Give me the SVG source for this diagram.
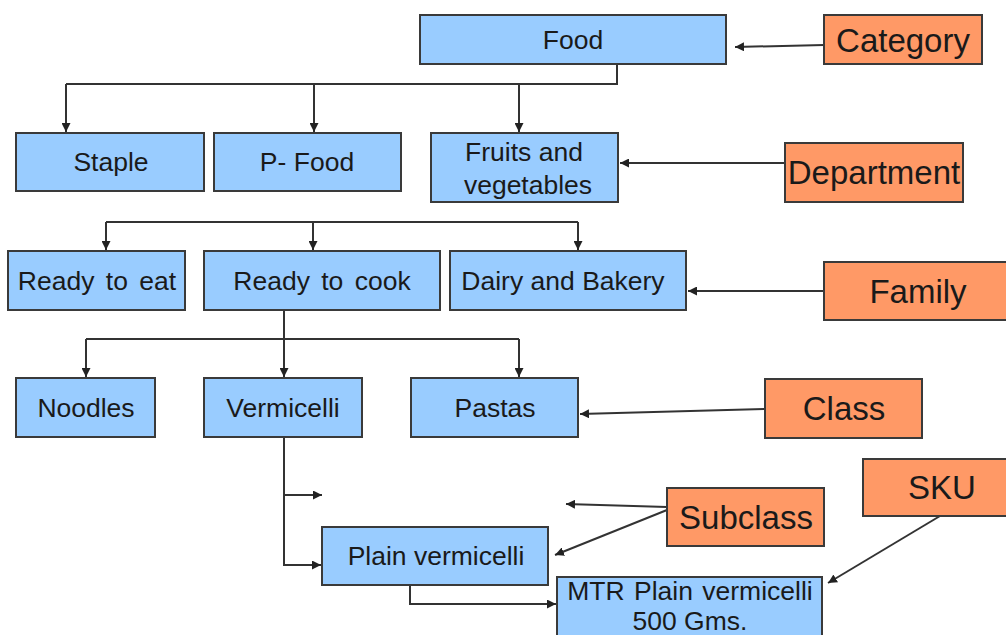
<svg xmlns="http://www.w3.org/2000/svg" width="1006" height="635" viewBox="0 0 1006 635">
<defs>
<marker id="ah" viewBox="0 0 10 10" refX="10" refY="5" markerWidth="9" markerHeight="9" markerUnits="userSpaceOnUse" orient="auto">
<path d="M0,0 L10,5 L0,10 z" fill="#222"/>
</marker>
<style>
.b rect{fill:#99ccff;stroke:#3a3a3a;stroke-width:2}
.o rect{fill:#ff9966;stroke:#3a3a3a;stroke-width:2}
.b text{font-family:"Liberation Sans",Arial,sans-serif;font-size:26.5px;fill:#1a1a1a;text-anchor:middle}
.o text{font-family:"Liberation Sans",Arial,sans-serif;font-size:33px;fill:#1a1a1a;text-anchor:middle}
#conn path{fill:none;stroke:#333;stroke-width:2}
#conn .a{marker-end:url(#ah)}
</style>
</defs>
<rect width="1006" height="635" fill="#fff"/>
<g id="conn">
<path class="a" d="M824,45 L735,47"/>
<path d="M617,64 V84 H66"/>
<path class="a" d="M66,84 V132"/>
<path class="a" d="M314,84 V132"/>
<path class="a" d="M519,84 V132"/>
<path class="a" d="M785,163 H620"/>
<path d="M106,222 H578"/>
<path class="a" d="M106,222 V250"/>
<path class="a" d="M313,222 V250"/>
<path class="a" d="M578,222 V250"/>
<path class="a" d="M824,291 H688"/>
<path class="a" d="M284,310 V377"/>
<path d="M86,339 H519"/>
<path class="a" d="M86,339 V377"/>
<path class="a" d="M519,339 V377"/>
<path class="a" d="M765,409 L580,414"/>
<path class="a" d="M284,437 V565 H321"/>
<path class="a" d="M284,495 H322"/>
<path class="a" d="M667,507 L566,504"/>
<path class="a" d="M667,510 L555,555"/>
<path class="a" d="M940,516 L828,583"/>
<path class="a" d="M410,585 V604 H556"/>
</g>
<g id="food" class="b"><rect x="420" y="15" width="306" height="49"/><text x="573" y="49">Food</text></g>
<g id="category" class="o"><rect x="824" y="15" width="158" height="49"/><text x="903" y="52">Category</text></g>
<g id="staple" class="b"><rect x="16" y="133" width="188" height="58"/><text x="111" y="171">Staple</text></g>
<g id="pfood" class="b"><rect x="214" y="133" width="187" height="58"/><text x="307" y="171">P- Food</text></g>
<g id="fruits" class="b"><rect x="431" y="133" width="187" height="69"/><text x="524" y="161">Fruits and</text><text x="528" y="194">vegetables</text></g>
<g id="department" class="o"><rect x="785" y="143" width="178" height="59"/><text x="874" y="184">Department</text></g>
<g id="readyeat" class="b"><rect x="8" y="251" width="177" height="59"/><text x="97" y="290" word-spacing="4">Ready to eat</text></g>
<g id="readycook" class="b"><rect x="204" y="251" width="236" height="59"/><text x="322" y="290" word-spacing="4">Ready to cook</text></g>
<g id="dairy" class="b"><rect x="450" y="251" width="236" height="59"/><text x="563" y="290">Dairy and Bakery</text></g>
<g id="family" class="o"><rect x="824" y="262" width="186" height="58"/><text x="918" y="303">Family</text></g>
<g id="noodles" class="b"><rect x="16" y="378" width="139" height="59"/><text x="86" y="417">Noodles</text></g>
<g id="vermicelli" class="b"><rect x="204" y="378" width="158" height="59"/><text x="283" y="417">Vermicelli</text></g>
<g id="pastas" class="b"><rect x="411" y="378" width="167" height="59"/><text x="495" y="417">Pastas</text></g>
<g id="class" class="o"><rect x="765" y="379" width="157" height="59"/><text x="844" y="420">Class</text></g>
<g id="sku" class="o"><rect x="863" y="459" width="147" height="57"/><text x="942" y="499">SKU</text></g>
<g id="subclass" class="o"><rect x="667" y="488" width="157" height="58"/><text x="746" y="529">Subclass</text></g>
<g id="plain" class="b"><rect x="322" y="527" width="226" height="58"/><text x="436" y="565">Plain vermicelli</text></g>
<g id="mtr" class="b"><rect x="557" y="577" width="265" height="70"/><text x="690" y="600" word-spacing="2">MTR Plain vermicelli</text><text x="690" y="630">500 Gms.</text></g>
</svg>
